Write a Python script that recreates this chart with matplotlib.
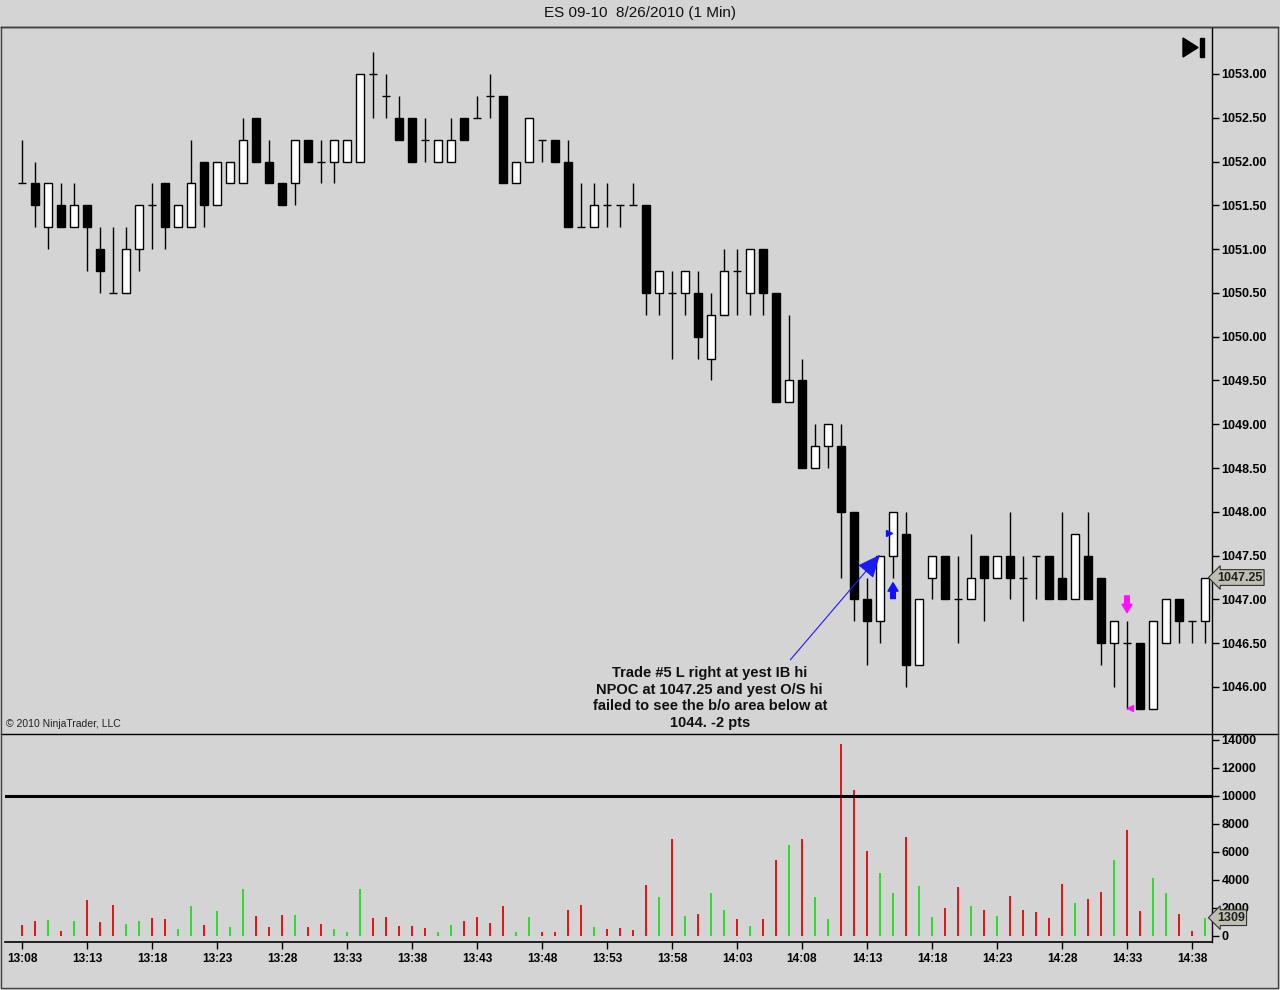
import numpy as np
import matplotlib.pyplot as plt
from matplotlib.patches import Polygon, Rectangle
from matplotlib.lines import Line2D

plt.rcParams['font.family'] = ['Liberation Sans', 'DejaVu Sans']

# 1 minute bars, ES 09-10, 26 Aug 2010, 13:08 .. 14:39
opens = [1051.75, 1051.75, 1051.25, 1051.50, 1051.25, 1051.50, 1051.00, 1050.50, 1050.50, 1051.00,
         1051.50, 1051.75, 1051.25, 1051.25, 1052.00, 1051.50, 1051.75, 1051.75, 1052.50, 1052.00,
         1051.75, 1051.75, 1052.25, 1052.00, 1052.00, 1052.00, 1052.00, 1053.00, 1052.75, 1052.50,
         1052.50, 1052.25, 1052.00, 1052.00, 1052.50, 1052.50, 1052.75, 1052.75, 1051.75, 1052.00,
         1052.25, 1052.25, 1052.00, 1051.25, 1051.25, 1051.50, 1051.50, 1051.50, 1051.50, 1050.50,
         1050.50, 1050.50, 1050.50, 1049.75, 1050.25, 1050.75, 1050.50, 1051.00, 1050.50, 1049.25,
         1049.50, 1048.50, 1048.75, 1048.75, 1048.00, 1047.00, 1046.75, 1047.50, 1047.75, 1046.25,
         1047.25, 1047.50, 1047.00, 1047.00, 1047.50, 1047.25, 1047.50, 1047.25, 1047.50, 1047.50,
         1047.25, 1047.00, 1047.50, 1047.25, 1046.50, 1046.50, 1046.50, 1045.75, 1046.50, 1047.00,
         1046.75, 1046.75]
highs = [1052.25, 1052.00, 1051.75, 1051.75, 1051.75, 1051.50, 1051.25, 1051.25, 1051.25, 1051.50,
         1051.75, 1051.75, 1051.50, 1052.25, 1052.00, 1052.00, 1052.00, 1052.50, 1052.50, 1052.25,
         1051.75, 1052.25, 1052.25, 1052.25, 1052.25, 1052.25, 1053.00, 1053.25, 1053.00, 1052.75,
         1052.50, 1052.50, 1052.25, 1052.50, 1052.50, 1052.75, 1053.00, 1052.75, 1052.00, 1052.50,
         1052.25, 1052.25, 1052.25, 1051.75, 1051.75, 1051.75, 1051.50, 1051.75, 1051.50, 1050.75,
         1050.75, 1050.75, 1050.75, 1050.50, 1051.00, 1051.00, 1051.00, 1051.00, 1050.50, 1050.25,
         1049.75, 1049.00, 1049.00, 1049.00, 1048.00, 1047.25, 1047.50, 1048.00, 1048.00, 1047.00,
         1047.50, 1047.50, 1047.50, 1047.75, 1047.50, 1047.50, 1048.00, 1047.50, 1047.50, 1047.50,
         1048.00, 1047.75, 1048.00, 1047.25, 1046.75, 1046.75, 1046.50, 1046.75, 1047.00, 1047.00,
         1046.75, 1047.25]
lows = [1051.75, 1051.25, 1051.00, 1051.25, 1051.25, 1050.75, 1050.50, 1050.50, 1050.50, 1050.75,
        1051.00, 1051.00, 1051.25, 1051.25, 1051.25, 1051.50, 1051.75, 1051.75, 1052.00, 1051.75,
        1051.50, 1051.50, 1052.00, 1051.75, 1051.75, 1052.00, 1052.00, 1052.50, 1052.50, 1052.25,
        1052.00, 1052.00, 1052.00, 1052.00, 1052.25, 1052.50, 1052.50, 1051.75, 1051.75, 1052.00,
        1052.00, 1052.00, 1051.25, 1051.25, 1051.25, 1051.25, 1051.25, 1051.50, 1050.25, 1050.25,
        1049.75, 1050.25, 1049.75, 1049.50, 1050.25, 1050.25, 1050.25, 1050.25, 1049.25, 1049.25,
        1048.50, 1048.50, 1048.50, 1047.25, 1046.75, 1046.25, 1046.50, 1047.25, 1046.00, 1046.25,
        1047.00, 1047.00, 1046.50, 1047.00, 1046.75, 1047.25, 1047.00, 1046.75, 1047.00, 1047.00,
        1047.00, 1047.00, 1047.00, 1046.25, 1046.00, 1045.75, 1045.75, 1045.75, 1046.50, 1046.50,
        1046.50, 1046.50]
closes = [1051.75, 1051.50, 1051.75, 1051.25, 1051.50, 1051.25, 1050.75, 1050.50, 1051.00, 1051.50,
          1051.50, 1051.25, 1051.50, 1051.75, 1051.50, 1052.00, 1052.00, 1052.25, 1052.00, 1051.75,
          1051.50, 1052.25, 1052.00, 1052.00, 1052.25, 1052.25, 1053.00, 1053.00, 1052.75, 1052.25,
          1052.00, 1052.25, 1052.25, 1052.25, 1052.25, 1052.50, 1052.75, 1051.75, 1052.00, 1052.50,
          1052.25, 1052.00, 1051.25, 1051.25, 1051.50, 1051.50, 1051.50, 1051.50, 1050.50, 1050.75,
          1050.50, 1050.75, 1050.00, 1050.25, 1050.75, 1050.75, 1051.00, 1050.50, 1049.25, 1049.50,
          1048.50, 1048.75, 1049.00, 1048.00, 1047.00, 1046.75, 1047.50, 1048.00, 1046.25, 1047.00,
          1047.50, 1047.00, 1047.00, 1047.25, 1047.25, 1047.50, 1047.25, 1047.25, 1047.50, 1047.00,
          1047.00, 1047.75, 1047.00, 1046.50, 1046.75, 1046.50, 1045.75, 1046.75, 1047.00, 1046.75,
          1046.75, 1047.25]
volumes = [760, 1095, 1140, 380, 1095, 2595, 1000, 2240, 860, 1095,
           1260, 1240, 525, 2140, 810, 1810, 670, 3360, 1430, 670,
           1520, 1500, 670, 880, 525, 310, 3360, 1310, 1380, 740,
           740, 600, 310, 790, 1050, 1380, 950, 2140, 260, 1380,
           260, 310, 1880, 2210, 670, 525, 600, 430, 3670, 2790,
           6950, 1450, 1570, 3100, 1880, 1240, 740, 1240, 5400, 6520,
           6930, 2790, 1240, 13690, 10450, 6100, 4500, 3100, 7070, 3570,
           1380, 2020, 3500, 2140, 1880, 1400, 2860, 1880, 1710, 1310,
           3710, 2380, 2670, 3140, 5430, 7570, 1790, 4140, 3100, 1570,
           360, 1309]
time_labels = ['13:08', '13:13', '13:18', '13:23', '13:28', '13:33', '13:38', '13:43', '13:48', '13:53',
               '13:58', '14:03', '14:08', '14:13', '14:18', '14:23', '14:28', '14:33', '14:38']
price_ticks = [1046.0, 1046.5, 1047.0, 1047.5, 1048.0, 1048.5, 1049.0, 1049.5,
               1050.0, 1050.5, 1051.0, 1051.5, 1052.0, 1052.5, 1053.0]
volume_ticks = [0, 2000, 4000, 6000, 8000, 10000, 12000, 14000]
volume_level = 10000

note = ("Trade #5 L right at yest IB hi\nNPOC at 1047.25 and yest O/S hi\n"
        "failed to see the b/o area below at\n1044. -2 pts")

o = np.array(opens); h = np.array(highs); l = np.array(lows); c = np.array(closes)
v = np.array(volumes)
x = np.arange(len(o))

bg = '#D4D4D4'
W, H = 1280, 990
def fx(px): return px / W
def fy(py): return 1 - py / H

fig = plt.figure(figsize=(12.8, 9.9), dpi=100, facecolor=bg)

# price panel
ax = fig.add_axes([fx(1), fy(733), fx(1212) - fx(1), (733 - 28) / H])
ax.set_facecolor(bg)
ax.set_xlim((1 - 22) / 13, (1212 - 22) / 13)
ax.set_ylim(1053 - (733 - 74) / 87.57, 1053 + (74 - 28) / 87.57)

up = c > o
dn = c < o
dj = c == o
ax.vlines(x, l, h, color='black', lw=1, zorder=1)
ax.bar(x[up], (c - o)[up], bottom=o[up], width=0.54, facecolor='white', edgecolor='black', lw=1, zorder=2)
ax.bar(x[dn], (o - c)[dn], bottom=c[dn], width=0.54, facecolor='black', edgecolor='black', lw=1, zorder=2)
ax.hlines(o[dj], x[dj] - 0.3, x[dj] + 0.3, color='black', lw=1, zorder=2)

for s in ['left', 'top', 'bottom']:
    ax.spines[s].set_visible(False)
ax.spines['right'].set_linewidth(1)
ax.yaxis.tick_right()
ax.set_yticks(price_ticks)
ax.set_yticklabels(['%.2f' % p for p in price_ticks])
ax.tick_params(axis='y', direction='out', length=5, width=1, pad=2, labelsize=9)
for t in ax.get_yticklabels():
    t.set_fontweight('bold')
ax.set_xticks([])

# trade note with arrow
ax.text(52.9, 1046.24, note, ha='center', va='top', fontsize=10.5, fontweight='bold',
        linespacing=1.24, color='#101010', clip_on=True)
ax.annotate('', xy=(66.0, 1047.51), xytext=(59.1, 1046.31),
            arrowprops=dict(arrowstyle='-|>,head_length=0.8,head_width=0.35', color='#1a1aff',
                            lw=0.8, shrinkA=0, shrinkB=0, mutation_scale=18))
# executions
ax.plot([66.72], [1047.76], marker='>', color='#1010ff', markersize=4.5, zorder=5)
ax.annotate('', xy=(67.0, 1047.19), xytext=(67.0, 1047.01),
            arrowprops=dict(arrowstyle='simple,head_length=0.5,head_width=0.6,tail_width=0.28',
                            color='#1010ff', shrinkA=0, shrinkB=0, mutation_scale=12))
ax.annotate('', xy=(85.0, 1046.85), xytext=(85.0, 1047.04),
            arrowprops=dict(arrowstyle='simple,head_length=0.5,head_width=0.6,tail_width=0.28',
                            color='#ff10ff', shrinkA=0, shrinkB=0, mutation_scale=12))
ax.plot([85.25], [1045.76], marker='<', color='#ff10ff', markersize=4.5, zorder=5)

ax.text(0.004, 0.006, '\u00a9 2010 NinjaTrader, LLC', transform=ax.transAxes, fontsize=7.5,
        ha='left', va='bottom', color='#202020')

# last price marker
ax.text(1.004, c[-1], '%.2f' % c[-1], transform=ax.get_yaxis_transform(), ha='left', va='center',
        fontsize=9, fontweight='bold', color='#202020', clip_on=False, zorder=10,
        bbox=dict(boxstyle='larrow,pad=0.15', fc='#BEBEB2', ec='#303030', lw=0.8))

# volume panel
axv = fig.add_axes([fx(5), fy(942), fx(1212) - fx(5), (942 - 735) / H])
axv.set_facecolor(bg)
axv.set_xlim((5 - 22) / 13, (1212 - 22) / 13)
axv.set_ylim(-430, 14357)
vcol = np.where(up, '#2EDC2E', '#E21818')
axv.bar(x, v, width=0.23, color=vcol, zorder=2)
axv.axhline(volume_level, color='black', lw=2.2, zorder=3)
for s in ['left', 'top']:
    axv.spines[s].set_visible(False)
axv.spines['right'].set_linewidth(1)
axv.spines['bottom'].set_linewidth(1.2)
axv.yaxis.tick_right()
axv.set_yticks(volume_ticks)
axv.set_yticklabels([str(t) for t in volume_ticks])
axv.tick_params(axis='y', direction='out', length=5, width=1, pad=2, labelsize=9)
axv.set_xticks(x[::5])
axv.set_xticklabels(time_labels)
axv.tick_params(axis='x', direction='out', length=5, width=1, pad=3, labelsize=8.6)
for t in axv.get_yticklabels() + axv.get_xticklabels():
    t.set_fontweight('bold')
axv.text(1.004, v[-1], str(v[-1]), transform=axv.get_yaxis_transform(), ha='left', va='center',
         fontsize=9, fontweight='bold', color='#202020', clip_on=False, zorder=10,
         bbox=dict(boxstyle='larrow,pad=0.15', fc='#BEBEB2', ec='#303030', lw=0.8))

# frame lines
fig.add_artist(Line2D([fx(1), fx(1278)], [fy(27), fy(27)], color='black', lw=1))
fig.add_artist(Line2D([fx(1), fx(1278)], [fy(733.5), fy(733.5)], color='black', lw=1))
fig.add_artist(Line2D([fx(1), fx(1), fx(1278), fx(1278), fx(1)],
                      [fy(27), fy(988), fy(988), fy(27), fy(27)], color='#404040', lw=1))

# end-of-chart button
fig.add_artist(Polygon([[fx(1183), fy(38)], [fx(1183), fy(57)], [fx(1198), fy(47.5)]],
                       closed=True, color='black'))
fig.add_artist(Rectangle((fx(1200), fy(57)), fx(4), 19 / H, color='black'))

fig.text(0.5, fy(13), 'ES 09-10  8/26/2010 (1 Min)', ha='center', va='center', fontsize=11, color='#101010')

fig.savefig('out.png', dpi=100, facecolor=bg)
